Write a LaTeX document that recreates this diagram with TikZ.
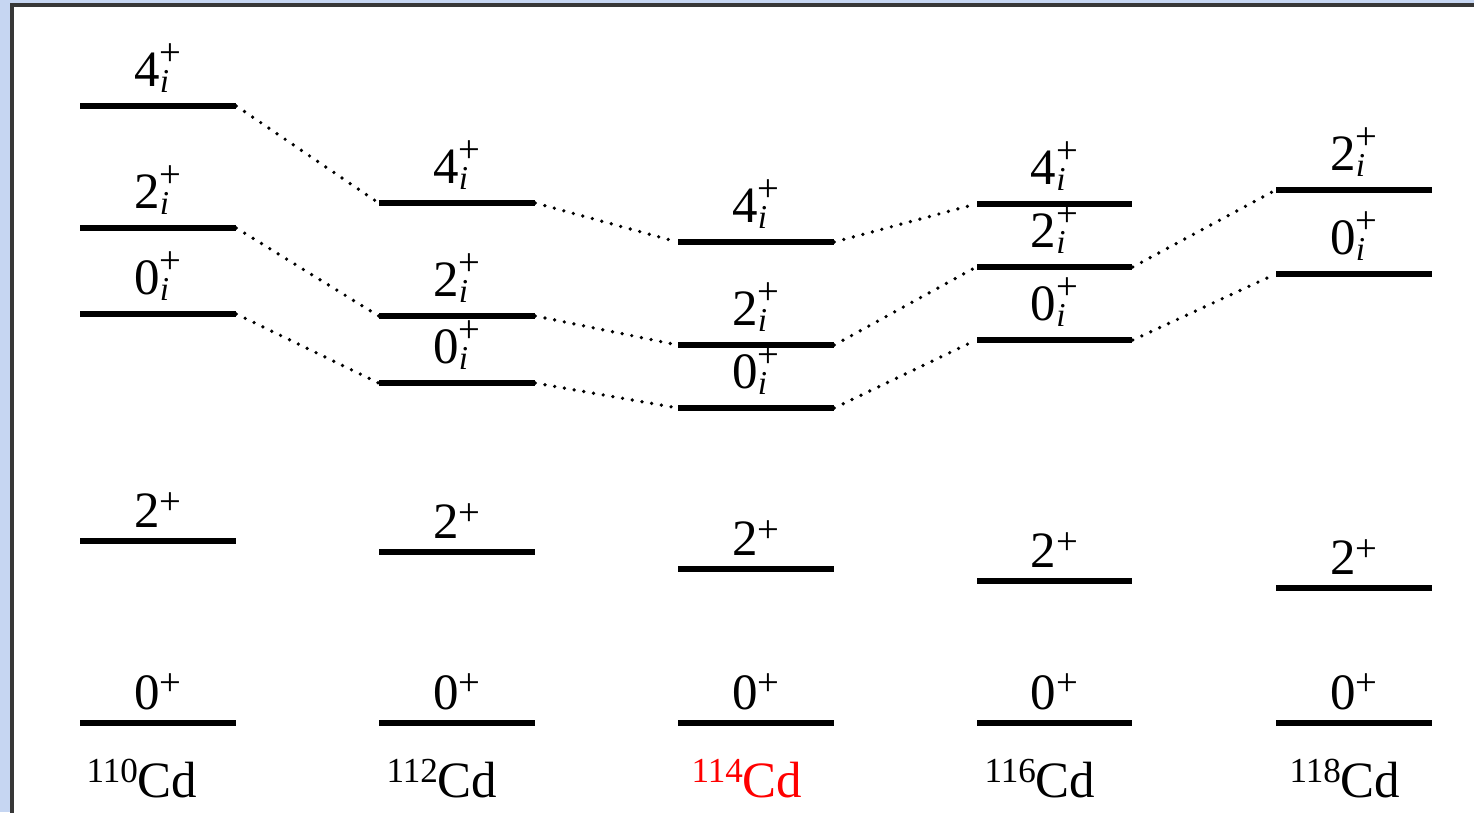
\documentclass[tikz,border=0pt]{standalone}
\usepackage{fontspec}
\setmainfont{Liberation Serif}
\usetikzlibrary{positioning}
\definecolor{framebg}{RGB}{198,214,242}
\definecolor{framedark}{RGB}{55,55,55}
\definecolor{isored}{RGB}{255,0,0}
\newcommand{\scr}{\fontsize{22}{22}\selectfont}
\newcommand{\scri}{\fontsize{19}{19}\selectfont}
\newcommand{\spini}[1]{#1{\scr\rlap{\raisebox{11.6pt}{+}}\rlap{\raisebox{-3.6pt}{\scri\itshape i}}\phantom{+}}}
\newcommand{\spinp}[1]{#1{\scr\raisebox{7.6pt}{+}}}
\newcommand{\mass}[1]{\raisebox{8.5pt}{\fontsize{20}{22}\selectfont #1}}
\tikzset{
  level/.style={
    rectangle,
    fill=black,
    inner sep=0pt,
    minimum width=3.12cm,
    minimum height=0.13cm
  },
  spin/.style={
    inner sep=0pt,
    label distance=0.19cm,
    font=\fontsize{29}{34}\selectfont
  },
  iso/.style={
    anchor=base,
    inner sep=0pt,
    font=\fontsize{29}{34}\selectfont
  },
  link/.style={line width=2.1pt, dash pattern=on 0pt off 5.6pt, line cap=round}
}

\begin{document}
\begin{tikzpicture}[x=0.02cm, y=-0.02cm]
  \useasboundingbox (0,0) rectangle (1474,812);
  \fill[framebg] (0,0) rectangle (1474,812);
  \draw[framedark, fill=white, line width=0.08cm] (12,4.5) rectangle (1500,840);

  % 110Cd
  \node[level, label={[spin]above:\spini{4}}] (f110) at (158,106) {};
  \node[level, label={[spin]above:\spini{2}}] (t110) at (158,228) {};
  \node[level, label={[spin]above:\spini{0}}] (z110) at (158,314) {};
  \node[level, label={[spin]above:\spinp{2}}] (b110) at (158,541) {};
  \node[level, label={[spin]above:\spinp{0}}] (a110) at (158,723) {};
  \node[iso] (n110) at (142,797) {\mass{110}Cd};

  % 112Cd
  \node[level, label={[spin]above:\spini{4}}] (f112) at (457,203) {};
  \node[level, label={[spin]above:\spini{2}}] (t112) at (457,316) {};
  \node[level, label={[spin]above:\spini{0}}] (z112) at (457,383) {};
  \node[level, label={[spin]above:\spinp{2}}] (b112) at (457,552) {};
  \node[level, label={[spin]above:\spinp{0}}] (a112) at (457,723) {};
  \node[iso] (n112) at (442,797) {\mass{112}Cd};

  % 114Cd
  \node[level, label={[spin]above:\spini{4}}] (f114) at (756,242) {};
  \node[level, label={[spin]above:\spini{2}}] (t114) at (756,345) {};
  \node[level, label={[spin]above:\spini{0}}] (z114) at (756,408) {};
  \node[level, label={[spin]above:\spinp{2}}] (b114) at (756,569) {};
  \node[level, label={[spin]above:\spinp{0}}] (a114) at (756,723) {};
  \node[iso, text=isored] (n114) at (747,797) {\mass{114}Cd};

  % 116Cd
  \node[level, label={[spin]above:\spini{4}}] (f116) at (1054.5,204) {};
  \node[level, label={[spin]above:\spini{2}}] (t116) at (1054.5,267) {};
  \node[level, label={[spin]above:\spini{0}}] (z116) at (1054.5,340) {};
  \node[level, label={[spin]above:\spinp{2}}] (b116) at (1054.5,581) {};
  \node[level, label={[spin]above:\spinp{0}}] (a116) at (1054.5,723) {};
  \node[iso] (n116) at (1040,797) {\mass{116}Cd};

  % 118Cd
  \node[level, label={[spin]above:\spini{2}}] (t118) at (1354,190) {};
  \node[level, label={[spin]above:\spini{0}}] (z118) at (1354,274) {};
  \node[level, label={[spin]above:\spinp{2}}] (b118) at (1354,588) {};
  \node[level, label={[spin]above:\spinp{0}}] (a118) at (1354,723) {};
  \node[iso] (n118) at (1345,797) {\mass{118}Cd};

  % intruder band
  \draw[link] (f110.east) -- (f112.west);
  \draw[link] (t110.east) -- (t112.west);
  \draw[link] (z110.east) -- (z112.west);
  \draw[link] (f112.east) -- (f114.west);
  \draw[link] (t112.east) -- (t114.west);
  \draw[link] (z112.east) -- (z114.west);
  \draw[link] (f114.east) -- (f116.west);
  \draw[link] (t114.east) -- (t116.west);
  \draw[link] (z114.east) -- (z116.west);
  \draw[link] (t116.east) -- (t118.west);
  \draw[link] (z116.east) -- (z118.west);
\end{tikzpicture}
\end{document}
